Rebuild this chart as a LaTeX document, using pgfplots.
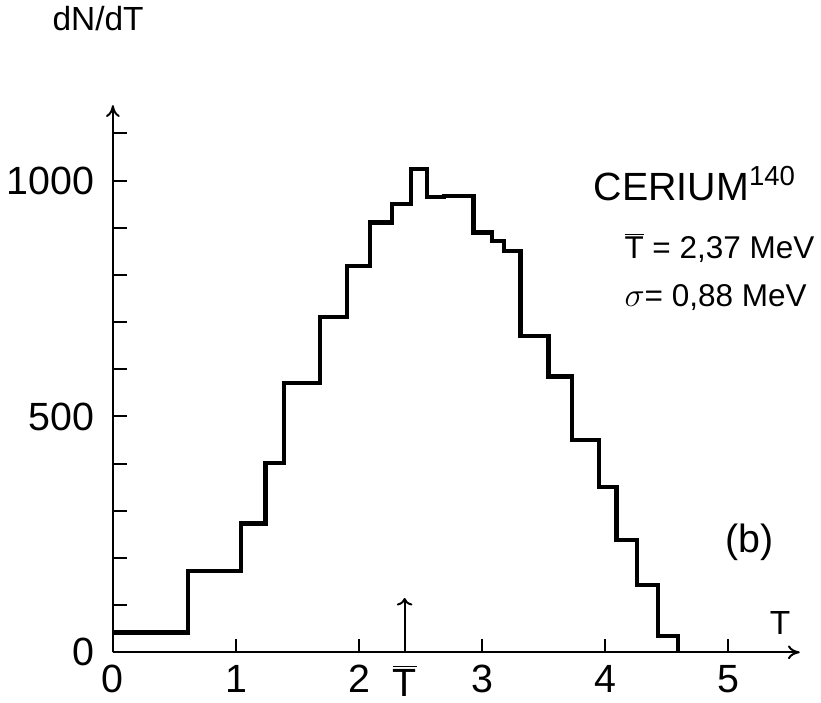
\documentclass[border=0pt]{standalone}
\usepackage{pgfplots}
\pgfplotsset{compat=1.18}
\usetikzlibrary{arrows.meta}
\usepackage{fontspec}
\setmainfont{Liberation Sans}
\begin{document}
\begin{tikzpicture}
\begin{axis}[
  scale only axis, width=349pt, height=278pt,
  xmin=0, xmax=5.58, ymin=0, ymax=1160,
  axis lines=left, axis line style={line width=1pt,-{To[length=6pt,width=7pt]}},
  tick align=inside, major tick length=7pt, tick style={line width=1pt,black},
  xtick={0,1,2,3,4,5}, ytick={0,100,...,1100},
  yticklabels={0,,,,,500,,,,,1000,},
  extra x ticks={2.37}, extra x tick labels={$\overline{\mbox{T}}$},
  extra x tick style={major tick length=0pt},
  every tick label/.append style={font=\fontsize{20}{24}\selectfont},
  xticklabel style={yshift=-3pt},
  yticklabel style={xshift=-6pt},
  /pgf/number format/assume math mode=true,
  clip=false,
]
\addplot[const plot, line width=2.2pt] coordinates {
(0,42) (0.61,172) (1.04,273) (1.24,401) (1.39,571) (1.68,711) (1.90,819)
(2.09,911) (2.27,950) (2.42,1025) (2.55,965) (2.69,968) (2.93,890)
(3.08,872) (3.18,851) (3.31,670) (3.54,585) (3.73,450) (3.95,351)
(4.09,238) (4.26,142) (4.43,35) (4.59,0)};
\draw[line width=1pt,->] (axis cs:2.37,0) -- (axis cs:2.37,115);
\node[anchor=west,font=\fontsize{20}{24}\selectfont] at (axis cs:3.85,994) {CERIUM\textsuperscript{140}};
\node[anchor=west,font=\fontsize{16}{20}\selectfont] at (axis cs:4.1,858) {$\overline{\mbox{T}}$ = 2,37 MeV};
\node[anchor=west,font=\fontsize{16}{20}\selectfont] at (axis cs:4.1,753) {$\sigma$= 0,88 MeV};
\node[font=\fontsize{20}{24}\selectfont] at (axis cs:5.17,234) {(b)};
\node[font=\fontsize{17}{20}\selectfont] at (axis cs:5.42,62) {T};
\node[font=\fontsize{17}{20}\selectfont] at (axis cs:-0.12,1343) {dN/dT};
\end{axis}
\end{tikzpicture}
\end{document}
